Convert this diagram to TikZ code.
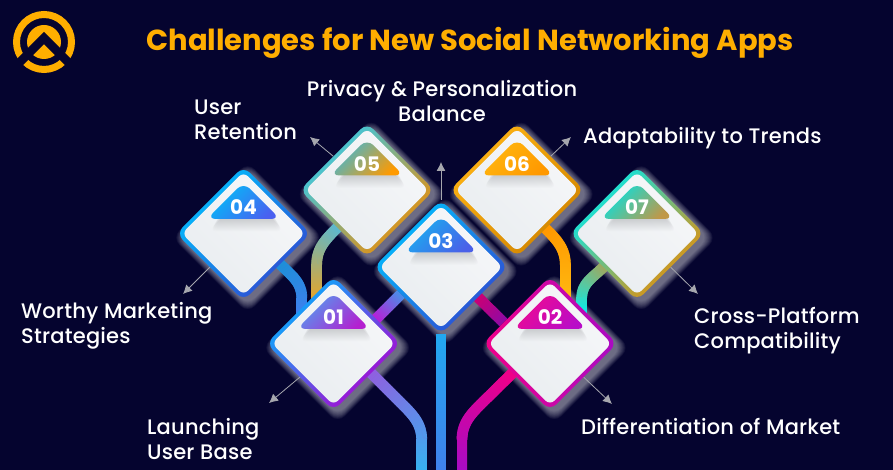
\documentclass[tikz,border=0pt]{standalone}
\usepackage{fontspec}
\setmainfont{Poppins}[UprightFont={* Medium},LetterSpace=1]
\newfontfamily\headfont{Poppins}
\usepackage{xcolor}
\usetikzlibrary{calc,arrows.meta,backgrounds,decorations.markings}

\definecolor{navy}{HTML}{05042F}
\definecolor{logogold}{HTML}{FFAE00}
\definecolor{tipgray}{HTML}{A6A7AE}
\definecolor{cardA}{HTML}{F6F7F9}
\definecolor{cardB}{HTML}{E9EDF0}
\definecolor{edgeA01}{HTML}{00B4FF}\definecolor{edgeB01}{HTML}{B000D0}
\definecolor{edgeA02}{HTML}{F00088}\definecolor{edgeB02}{HTML}{A80CC4}
\definecolor{edgeA03}{HTML}{00C0FF}\definecolor{edgeB03}{HTML}{3048D0}
\definecolor{edgeA04}{HTML}{00C0FF}\definecolor{edgeB04}{HTML}{3048D0}
\definecolor{edgeA05}{HTML}{30CCF0}\definecolor{edgeB05}{HTML}{F08C00}
\definecolor{edgeA06}{HTML}{FFB414}\definecolor{edgeB06}{HTML}{D08400}
\definecolor{edgeA07}{HTML}{00ECF0}\definecolor{edgeB07}{HTML}{EE8A00}
\definecolor{tabA01}{HTML}{4FA0F0}\definecolor{tabB01}{HTML}{B420D0}
\definecolor{tabA02}{HTML}{F00A90}\definecolor{tabB02}{HTML}{B80CC8}
\definecolor{tabA03}{HTML}{18B0F0}\definecolor{tabB03}{HTML}{4A60E8}
\definecolor{tabA04}{HTML}{00C0F8}\definecolor{tabB04}{HTML}{4A60F0}
\definecolor{tabA05}{HTML}{38B8DC}\definecolor{tabB05}{HTML}{FF9A00}
\definecolor{tabA06}{HTML}{FFB810}\definecolor{tabB06}{HTML}{FF9800}
\definecolor{tabA07}{HTML}{00E4E4}\definecolor{tabB07}{HTML}{C09848}
\definecolor{lineA03}{HTML}{22A8F0}\definecolor{lineB03}{HTML}{4080EC}
\definecolor{lineA04}{HTML}{1E8FD8}\definecolor{lineB04}{HTML}{3F7FEF}
\definecolor{lineA05}{HTML}{5CB8D0}\definecolor{lineB05}{HTML}{E3A52C}
\definecolor{lineA07}{HTML}{A0A860}\definecolor{lineB07}{HTML}{00F0F0}
\definecolor{lineA01}{HTML}{9060E0}\definecolor{lineB01}{HTML}{38B0F0}
\definecolor{lineA13}{HTML}{B81FD8}\definecolor{lineB13}{HTML}{4A8FE8}

\tikzset{
	card/.style={rotate=45,minimum size=95pt,inner sep=0pt,rounded corners=9pt},
	cardface/.style={rotate=45,minimum size=87pt,inner sep=0pt,rounded corners=6pt},
	numtab/.style={rounded corners=9pt},
	numtext/.style={text=white,font=\headfont\bfseries\fontsize{20}{20}\selectfont},
	glow/.style={white,opacity=.045},
	caption/.style={text=white,align=left,inner sep=0pt,font=\fontsize{21}{25}\selectfont},
	pointer/.style={tipgray,line width=.8pt,-{Latex[length=9pt,width=9pt]}},
	trunk/.style={line width=10pt},
	gradline/.style 2 args={#1,postaction={decorate,decoration={markings,
		mark=between positions 0 and 1 step 1pt with {
			\pgfmathsetmacro\mixval{\pgfkeysvalueof{/pgf/decoration/mark info/distance from start}/\pgfdecoratedpathlength*100}
			\fill[#2!\mixval!#1] (-.7pt,-5.4pt) rectangle (.7pt,5.4pt);
		}}}},
}

\begin{document}
\begin{tikzpicture}[x=1pt,y=1pt]
	\useasboundingbox (0,0) rectangle (893,470);
	\begin{scope}[on background layer]
		\fill[navy] (0,0) rectangle (893,470);
	\end{scope}

	% logo
	\coordinate (lg) at (44,428);
	\coordinate (lgL) at (9,397);
	\coordinate (lgT) at (44,432);
	\coordinate (lgR) at (79,397);
	\draw[logogold,line width=7pt] (lg) circle (27.5);
	\fill[logogold] (lg) circle (17);
	\draw[navy,line width=8.5pt,miter limit=10] (lgL) -- (lgT) -- (lgR);

	\node (title) at (470,427) {\headfont\bfseries\fontsize{29}{29}\selectfont\textcolor{logogold}{Challenges for New Social Networking Apps}};

	\foreach \idx/\x/\y/\ang in {01/333.5/126.5/45,02/550/126.5/90,03/441/203/45,04/243.5/236.5/45,05/367/280/45,06/517/280/45,07/637/236.5/45}{
		\node[card,top color=edgeA\idx,bottom color=edgeB\idx,shading angle=\ang] (d\idx) at (\x,\y) {};
		\node[cardface,top color=cardA,bottom color=cardB,shading angle=-45] (i\idx) at (\x,\y) {};
		\foreach \k in {0,...,11}{
			\fill[black,opacity=.012,numtab] (\x+3,\y+40) -- (\x+3+33+.5*\k,\y+13-\k) -- (\x+3-33-.5*\k,\y+13-\k) -- cycle;
		}
		\shade[numtab,top color=tabA\idx,bottom color=tabB\idx,shading angle=45] (\x,\y+51.2) -- (\x+36.7,\y+14.5) -- (\x-36.7,\y+14.5) -- cycle;
		\node[numtext] (n\idx) at (\x,\y+26) {\idx};
		\begin{scope}[on background layer]
			\foreach \k in {0,...,12}{
				\fill[glow,rounded corners=10pt,shift={(\x+4.2,\y-4.2)},rotate=45] (-47.5-.5*\k,-47.5-.5*\k) rectangle (47.5+.5*\k,47.5+.5*\k);
			}
		\end{scope}
	}

	\coordinate (e05) at ($(d01.north)!.5!(d01.north east)$);
	\coordinate (e06) at ($(d02.east)!.5!(d02.north east)$);
	\coordinate (k01) at (403,65);
	\coordinate (k02) at (480,65);
	\coordinate (b01) at (421.7,0);
	\coordinate (b02) at (462,0);
	\coordinate (b03) at (441,0);

	\coordinate (a01) at (269,67);
	\coordinate (a02) at (612,66);
	\coordinate (a03) at (441,308);
	\coordinate (a04) at (183,176);
	\coordinate (a05) at (310,333);
	\coordinate (a06) at (571,333);
	\coordinate (a07) at (698,176);

	\begin{scope}[on background layer]
		\draw[trunk,gradline={lineA03}{lineB03}] (d03.south west) -- (b03);
		\draw[trunk,gradline={lineA04}{lineB04}] ([shift={(3,3)}]d04.south) to[out=-45,in=90] ([shift={(2,12)}]d01.north) -- ([shift={(2,-6)}]d01.north);
		\draw[trunk,gradline={lineA05}{lineB05}] ([shift={(4,-4)}]d05.west) to[out=-135,in=90] ($(e05)+(0,28)$) -- ($(e05)+(0,-6)$);
		\draw[trunk,gradline={lineA13}{lineB13}] ([shift={(9,-9)}]d01.east) -- ([shift={(-6.5,6.5)}]d03.west);
		\draw[trunk,gradline={edgeA02!85!black}{edgeB02}] ([shift={(3.4,3.4)}]d03.south) -- ([shift={(-12.8,-12.8)}]d02.north);
		\draw[trunk,gradline={tabB06}{tabA06}] ([shift={(-5,-5)}]d06.south) to[out=-45,in=90] ($(e06)+(-1.5,28)$) -- ($(e06)+(-1.5,-6)$);
		\draw[trunk,gradline={lineA07}{lineB07}] (d07.west) to[out=-135,in=90] ([shift={(-2,12)}]d02.east) -- ([shift={(-2,-6)}]d02.east);
		\draw[trunk,gradline={lineA01}{lineB01}] ([shift={(4,4)}]d01.south) -- (k01) to[out=-45,in=90] ($(b01)+(0,30)$) -- (b01);
		\draw[trunk,gradline={edgeA02}{edgeB02}] ([shift={(-4,4)}]d02.west) -- (k02) to[out=-135,in=90] ($(b02)+(0,30)$) -- (b02);

		\draw[pointer] (d01.west) -- (a01);
		\draw[pointer] (d02.south) -- (a02);
		\draw[pointer] (d03.north east) -- (a03);
		\draw[pointer] (d04.west) -- (a04);
		\draw[pointer] (d05.north) -- (a05);
		\draw[pointer] (d06.east) -- (a06);
		\draw[pointer] (d07.south) -- (a07);
	\end{scope}

	\node[caption,anchor=west] (l01) at (147,30.5) {Launching\\User Base};
	\node[caption,anchor=west] (l02) at (581,44) {Differentiation of Market};
	\node[caption,align=center] (l03) at (442,368.5) {Privacy \& Personalization\\Balance};
	\node[caption,anchor=west] (l04) at (21,144.5) {Worthy Marketing\\Strategies};
	\node[caption,anchor=west] (l05) at (194,350) {User\\Retention};
	\node[caption,anchor=west] (l06) at (583,332) {Adaptability to Trends};
	\node[caption,anchor=west] (l07) at (694,139.5) {Cross-Platform\\Compatibility};
\end{tikzpicture}
\end{document}
